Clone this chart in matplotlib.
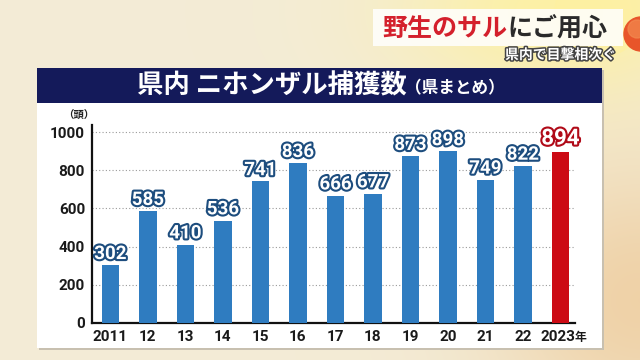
import numpy as np
import matplotlib
matplotlib.use("Agg")
import matplotlib.pyplot as plt
from matplotlib.patches import Rectangle, Circle
import matplotlib.patheffects as pe

plt.rcParams['font.family'] = ['Noto Sans CJK JP', 'DejaVu Sans']

years = ["2011", "12", "13", "14", "15", "16", "17", "18", "19", "20", "21", "22", "2023"]
values = [302, 585, 410, 536, 741, 836, 666, 677, 873, 898, 749, 822, 894]
yticks = [0, 200, 400, 600, 800, 1000]
title_main = "県内 ニホンザル捕獲数"
title_sub = "（県まとめ）"
banner_red = "野生のサル"
banner_dark = "にご用心"
banner_sub = "県内で目撃相次ぐ"
unit = "（頭）"
year_suffix = "年"

W, H = 640, 360
fig = plt.figure(figsize=(6.4, 3.6), dpi=100)

# background gradient
bg = fig.add_axes([0, 0, 1, 1])
bg.set_xlim(0, W); bg.set_ylim(H, 0); bg.axis('off')
yy, xx = np.mgrid[0:H, 0:W]
base = np.array([0.955, 0.925, 0.84])
img = np.ones((H, W, 3)) * base
glow = np.exp(-(((xx - 560) / 160.0) ** 2 + ((yy - 10) / 90.0) ** 2))
warm = np.exp(-(((xx - 640) / 150.0) ** 2 + ((yy - 300) / 140.0) ** 2))
img += glow[..., None] * (np.array([1.0, 0.95, 0.6]) - base) * 0.8
img += warm[..., None] * (np.array([0.93, 0.78, 0.58]) - base) * 0.7
img = np.clip(img, 0, 1)
bg.imshow(img, extent=[0, W, H, 0], aspect='auto', zorder=0)

# orange ball
bg.add_patch(Circle((600, 12), 45, color='#fff0a0', alpha=0.6, zorder=1))
bg.add_patch(Circle((641, 34), 17, color='#e8552a', zorder=2))
bg.add_patch(Circle((637, 29), 9, color='#f28a50', alpha=0.7, zorder=2))

# banner
bg.add_patch(Rectangle((373, 9), 250, 37, facecolor='white', alpha=0.85, edgecolor='none', zorder=3))
t_red = bg.text(382, 29, banner_red, color='#d4202c', fontsize=18, fontweight='bold', va='center', ha='left', zorder=4)
fig.canvas.draw()
bb = t_red.get_window_extent()
x_end = bb.x1
bg.text(x_end, 29, banner_dark, color='#2a2a2a', fontsize=18, fontweight='bold', va='center', ha='left', zorder=4)
bg.text(616, 55, banner_sub, color='white', fontsize=10, fontweight='bold', va='center', ha='right', zorder=4,
        path_effects=[pe.withStroke(linewidth=2.2, foreground='#444444')])

# panel
bg.add_patch(Rectangle((39, 70), 565, 280, facecolor='#c8c0b0', edgecolor='none', zorder=3))
bg.add_patch(Rectangle((37, 68), 565, 280, facecolor='white', edgecolor='none', zorder=4))
bg.add_patch(Rectangle((37, 68), 565, 35, facecolor='#141a5a', edgecolor='none', zorder=5))
bg.text(407, 86, title_main, color='white', fontsize=19, fontweight='bold', va='center', ha='right', zorder=6)
bg.text(405, 88, title_sub, color='white', fontsize=12, fontweight='bold', va='center', ha='left', zorder=6)
bg.text(79, 116, unit, color='#222222', fontsize=7.5, fontweight='bold', va='center', ha='center', zorder=6)

# chart axes
ax = fig.add_axes([92 / W, 1 - 323 / H, (575 - 92) / W, 1035 * 0.191 / H])
ax.set_zorder(10)
ax.patch.set_visible(False)
x = np.arange(len(years))
colors = ['#2f7cc0'] * (len(years) - 1) + ['#cc0a14']
ax.bar(x, values, width=0.47, color=colors, zorder=3)
ax.set_xlim(-0.49, 12.39)
ax.set_ylim(0, 1035)
ax.set_yticks(yticks)
ax.set_yticklabels([str(t) for t in yticks], fontsize=11, fontweight='bold', color='#1a1a1a',
                   family=['Roboto', 'DejaVu Sans'])
for t in yticks[1:]:
    ax.axhline(t, color='#9a9a9a', linestyle=(0, (1, 2)), linewidth=0.8, zorder=1)
ax.set_xticks(x)
ax.set_xticklabels([])
for xi, lab in zip(x, years):
    if xi == len(years) - 1:
        ax.text(xi + 0.39, -36, lab, ha='right', va='top', fontsize=11, fontweight='bold', color='#1a1a1a',
                family=['Roboto', 'DejaVu Sans'])
        ax.text(xi + 0.39, -40, year_suffix, ha='left', va='top', fontsize=8.5, fontweight='bold', color='#1a1a1a')
    else:
        ax.text(xi, -36, lab, ha='center', va='top', fontsize=11, fontweight='bold', color='#1a1a1a',
                family=['Roboto', 'DejaVu Sans'])
ax.tick_params(length=0, pad=5)
for s in ['top', 'right']:
    ax.spines[s].set_visible(False)
ax.spines['left'].set_linewidth(1.6)
ax.spines['bottom'].set_linewidth(1.6)
ax.spines['left'].set_color('#111111')
ax.spines['bottom'].set_color('#111111')

for xi, v in zip(x, values):
    if xi == len(values) - 1:
        ax.text(xi, v + 14, str(v), ha='center', va='bottom', fontsize=16, fontweight='bold', color='white',
                family=['Roboto', 'DejaVu Sans'],
                path_effects=[pe.withStroke(linewidth=3, foreground='#b00a18')], zorder=5)
    else:
        ax.text(xi, v + 12, str(v), ha='center', va='bottom', fontsize=13.5, fontweight='bold', color='white',
                family=['Roboto', 'DejaVu Sans'],
                path_effects=[pe.withStroke(linewidth=3, foreground='#1d4d7e')], zorder=5)

fig.savefig('out.png', dpi=100)
